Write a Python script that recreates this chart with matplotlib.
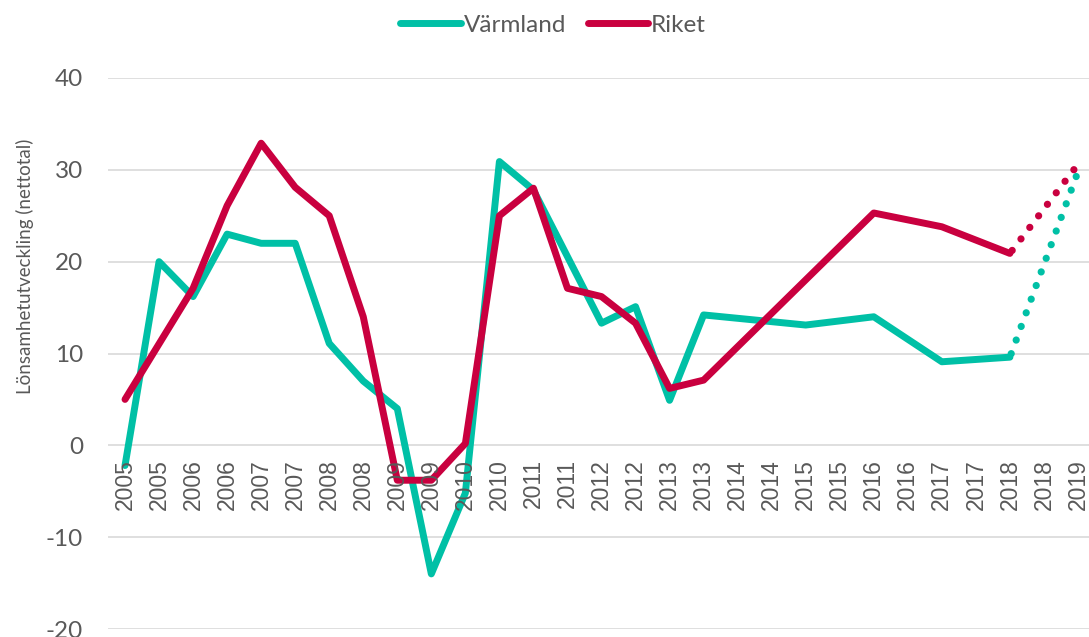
import numpy as np
import matplotlib
matplotlib.use("Agg")
import matplotlib.pyplot as plt
from matplotlib.lines import Line2D

plt.rcParams["axes.unicode_minus"] = False

nan = np.nan
categories = ["2005", "2005", "2006", "2006", "2007", "2007", "2008", "2008",
              "2009", "2009", "2010", "2010", "2011", "2011", "2012", "2012",
              "2013", "2013", "2014", "2014", "2015", "2015", "2016", "2016",
              "2017", "2017", "2018", "2018", "2019"]

varmland = [-2.2, 20, 16.2, 23, 22, 22, 11.1, 7, 4, -14, -5.2, 30.9, 27.8, nan,
            13.3, 15.1, 4.9, 14.2, nan, nan, 13.1, nan, 14, nan, 9.1, nan, 9.6, nan, nan]
riket = [5, nan, 17.1, 26.1, 32.9, 28.1, 25, 14, -3.8, -3.8, 0.2, 25, 28, 17.1,
         16.2, 13.3, 6.2, 7.1, nan, nan, nan, nan, 25.3, nan, 23.8, nan, 20.9, nan, nan]
varmland_prognos = [nan] * 26 + [9.6, nan, 29.8]
riket_prognos = [nan] * 26 + [20.9, nan, 30.6]

TEAL = "#00C0A6"
RED = "#C9003F"
GRAY = "#595959"
LW = 5.0

fig = plt.figure(figsize=(10.89, 6.37), dpi=100)
ax = fig.add_axes([108 / 1089, 8 / 637, (1095 - 108) / 1089, (629 - 78) / 637])

x = np.arange(len(categories))


def plot_series(vals, color, **kw):
    v = np.array(vals, dtype=float)
    m = ~np.isnan(v)
    ax.plot(x[m], v[m], color=color, solid_capstyle="round",
            solid_joinstyle="round", zorder=3, **kw)


plot_series(varmland, TEAL, lw=LW)
plot_series(riket, RED, lw=LW)
plot_series(varmland_prognos, TEAL, lw=5.2, linestyle=(1.5, (0.01, 2.0)), dash_capstyle="round")
plot_series(riket_prognos, RED, lw=5.2, linestyle=(1.5, (0.01, 2.0)), dash_capstyle="round")

ax.set_xlim(-0.5, len(categories) - 0.5)
ax.set_ylim(-20, 40)
ax.set_yticks([-20, -10, 0, 10, 20, 30, 40])
ax.set_axisbelow(True)
ax.yaxis.grid(True, color="#D9D9D9", lw=1.2)
ax.xaxis.set_zorder(5)

for s in ["top", "right", "left"]:
    ax.spines[s].set_visible(False)
ax.spines["bottom"].set_position(("data", 0))
ax.spines["bottom"].set_visible(False)

ax.set_xticks(x)
ax.set_xticklabels(categories, rotation=90, fontsize=16.5, color=GRAY,
                   family=["Liberation Sans", "DejaVu Sans"])
ax.tick_params(axis="x", length=0, pad=10)
ax.tick_params(axis="y", length=0, pad=18, labelsize=17.5, labelcolor=GRAY)
for t in ax.get_yticklabels():
    t.set_family(["Lato", "DejaVu Sans"])

fig.text(25 / 1089, 1 - 266 / 637, "Lönsamhetutveckling (nettotal)", rotation=90,
         ha="center", va="center", fontsize=13.5, color=GRAY,
         family=["Lato", "DejaVu Sans"])

handles = [Line2D([], [], color=TEAL, lw=LW, solid_capstyle="round"),
           Line2D([], [], color=RED, lw=LW, solid_capstyle="round")]
leg = fig.legend(handles, ["Värmland", "Riket"], loc="center",
                 bbox_to_anchor=(553 / 1089, 1 - 25 / 637), ncol=2, frameon=False,
                 handlelength=2.5, handletextpad=0.1, columnspacing=0.9,
                 prop={"family": ["Lato", "DejaVu Sans"], "size": 17.5})
for t in leg.get_texts():
    t.set_color(GRAY)

fig.savefig("out.png", dpi=100)
